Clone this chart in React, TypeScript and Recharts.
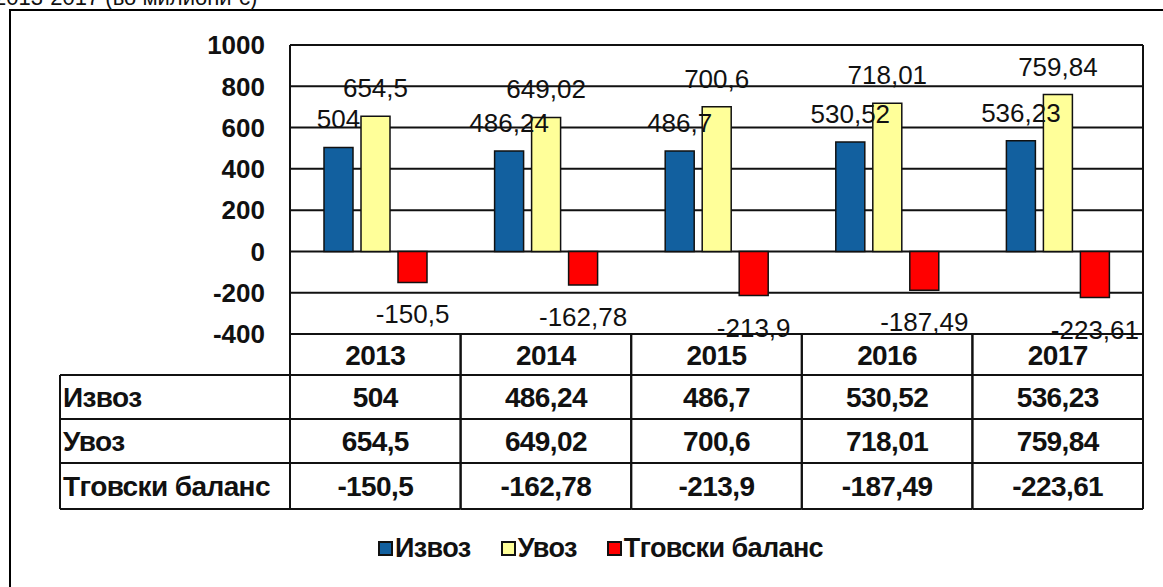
import React from "react";
import { BarChart, Bar, XAxis, YAxis, CartesianGrid, Legend, LabelList } from "recharts";

const years = ["2013", "2014", "2015", "2016", "2017"];
const izvoz = [504, 486.24, 486.7, 530.52, 536.23];
const uvoz = [654.5, 649.02, 700.6, 718.01, 759.84];
const balans = [-150.5, -162.78, -213.9, -187.49, -223.61];
const yTicks = [-400, -200, 0, 200, 400, 600, 800, 1000];

const seriesKeys = ["izvoz", "uvoz", "balans"];
const seriesNames = ["Извоз", "Увоз", "Тговски баланс"];
const seriesColors = ["#12609f", "#ffff99", "#ff0000"];
const seriesValues = [izvoz, uvoz, balans];

const title = "2013-2017 (во милиони €)";

const data = years.map((year, i) => ({ year, izvoz: izvoz[i], uvoz: uvoz[i], balans: balans[i] }));

// layout
const W = 1163;
const H = 587;
const PLOT_LEFT = 290;
const PLOT_RIGHT = 20;
const PLOT_TOP = 45;
const TABLE_H = 175;
const ROW_OFF = [0, 41, 85, 129, 175];
const LABEL_X = 60;

const SANS = '"Liberation Sans", Arial, sans-serif';
const INK = "#111";

const fmt = (v: number) => String(v).replace(".", ",");

function TableTick(props: any) {
  const { x, y, payload } = props;
  const i = payload.index;
  const col = (W - PLOT_LEFT - PLOT_RIGHT) / years.length;
  const x0 = x - col / 2;
  const x1 = x + col / 2;
  const fs = 28;
  const mid = (a: number, b: number) => y + (ROW_OFF[a] + ROW_OFF[b]) / 2 + fs * 0.36;
  const txt = { fontFamily: SANS, fontWeight: 700, fontSize: fs, fill: INK, letterSpacing: -0.6 };
  return (
    <g>
      <line x1={x0} x2={x0} y1={y} y2={y + TABLE_H} stroke={INK} strokeWidth={2} />
      <line x1={x1} x2={x1} y1={y} y2={y + TABLE_H} stroke={INK} strokeWidth={2} />
      {ROW_OFF.slice(1).map((o) => (
        <line key={o} x1={i === 0 ? LABEL_X : x0} x2={x1} y1={y + o} y2={y + o} stroke={INK} strokeWidth={2} />
      ))}
      {i === 0 && (
        <line x1={LABEL_X} x2={LABEL_X} y1={y + ROW_OFF[1]} y2={y + TABLE_H} stroke={INK} strokeWidth={2} />
      )}
      <text x={x} y={mid(0, 1)} textAnchor="middle" {...txt}>
        {payload.value}
      </text>
      {seriesValues.map((vals, r) => (
        <text key={r} x={x} y={mid(r + 1, r + 2)} textAnchor="middle" {...txt}>
          {fmt(vals[i])}
        </text>
      ))}
      {i === 0 &&
        seriesNames.map((n, r) => (
          <text key={n} x={LABEL_X + 3} y={mid(r + 1, r + 2)} {...txt}>
            {n}
          </text>
        ))}
    </g>
  );
}

const renderLabel = (p: any) => {
  const { x, y, width, height, value } = p;
  const top = Math.min(y, y + height);
  const bottom = Math.max(y, y + height);
  const ty = value < 0 ? bottom + 41 : top - 19;
  return (
    <text x={x + width / 2} y={ty} textAnchor="middle" fontFamily={SANS} fontSize={26} fill={INK}>
      {fmt(value)}
    </text>
  );
};

function LegendContent() {
  return (
    <div
      style={{
        display: "flex",
        justifyContent: "center",
        gap: 30,
        paddingLeft: 38,
        fontFamily: SANS,
        fontWeight: 700,
        fontSize: 27,
        letterSpacing: -0.6,
        color: INK,
      }}
    >
      {seriesNames.map((n, i) => (
        <span key={n} style={{ display: "flex", alignItems: "center" }}>
          <span
            style={{
              display: "inline-block",
              width: 11,
              height: 11,
              background: seriesColors[i],
              border: `2px solid ${INK}`,
              marginRight: 2,
            }}
          />
          {n}
        </span>
      ))}
    </div>
  );
}

export default function App() {
  return (
    <div style={{ position: "absolute", left: 0, top: 0, width: W, height: H, overflow: "hidden", background: "#fff" }}>
      <div style={{ position: "absolute", left: 9, top: 9, width: 1200, height: 640, border: "2px solid #000" }} />
      <svg style={{ position: "absolute", left: 0, top: 0 }} width={300} height={12}>
        <text x={-6} y={5} fontFamily={SANS} fontSize={22} fill={INK}>
          {title}
        </text>
      </svg>
      <div style={{ position: "absolute", left: 0, top: 0 }}>
        <BarChart
          width={W}
          height={H}
          data={data}
          margin={{ top: PLOT_TOP, right: 0, left: 0, bottom: H - PLOT_TOP - 289 - TABLE_H }}
          barSize={29}
          barGap={8}
        >
          <CartesianGrid horizontal vertical={false} stroke={INK} strokeWidth={2} yAxisId="l" />
          <XAxis
            dataKey="year"
            height={TABLE_H}
            axisLine={false}
            tickLine={false}
            tickSize={0}
            tickMargin={0}
            interval={0}
            tick={<TableTick />}
          />
          <YAxis
            yAxisId="l"
            width={PLOT_LEFT}
            domain={[-400, 1000]}
            ticks={yTicks}
            interval={0}
            axisLine={{ stroke: INK, strokeWidth: 2 }}
            tickLine={false}
            tickSize={0}
            tickMargin={25}
            tick={{ fontFamily: SANS, fontWeight: 700, fontSize: 26, fill: INK }}
          />
          <YAxis
            yAxisId="r"
            orientation="right"
            width={PLOT_RIGHT}
            domain={[-400, 1000]}
            ticks={yTicks}
            axisLine={{ stroke: INK, strokeWidth: 2 }}
            tickLine={false}
            tick={false}
          />
          <Legend
            verticalAlign="middle"
            layout="horizontal"
            content={<LegendContent />}
            wrapperStyle={{ top: 533, left: 0, width: W }}
          />
          {seriesKeys.map((k, i) => (
            <Bar
              key={k}
              yAxisId="l"
              dataKey={k}
              name={seriesNames[i]}
              fill={seriesColors[i]}
              stroke={INK}
              strokeWidth={1.5}
              isAnimationActive={false}
            >
              <LabelList dataKey={k} content={renderLabel} />
            </Bar>
          ))}
        </BarChart>
      </div>
    </div>
  );
}
